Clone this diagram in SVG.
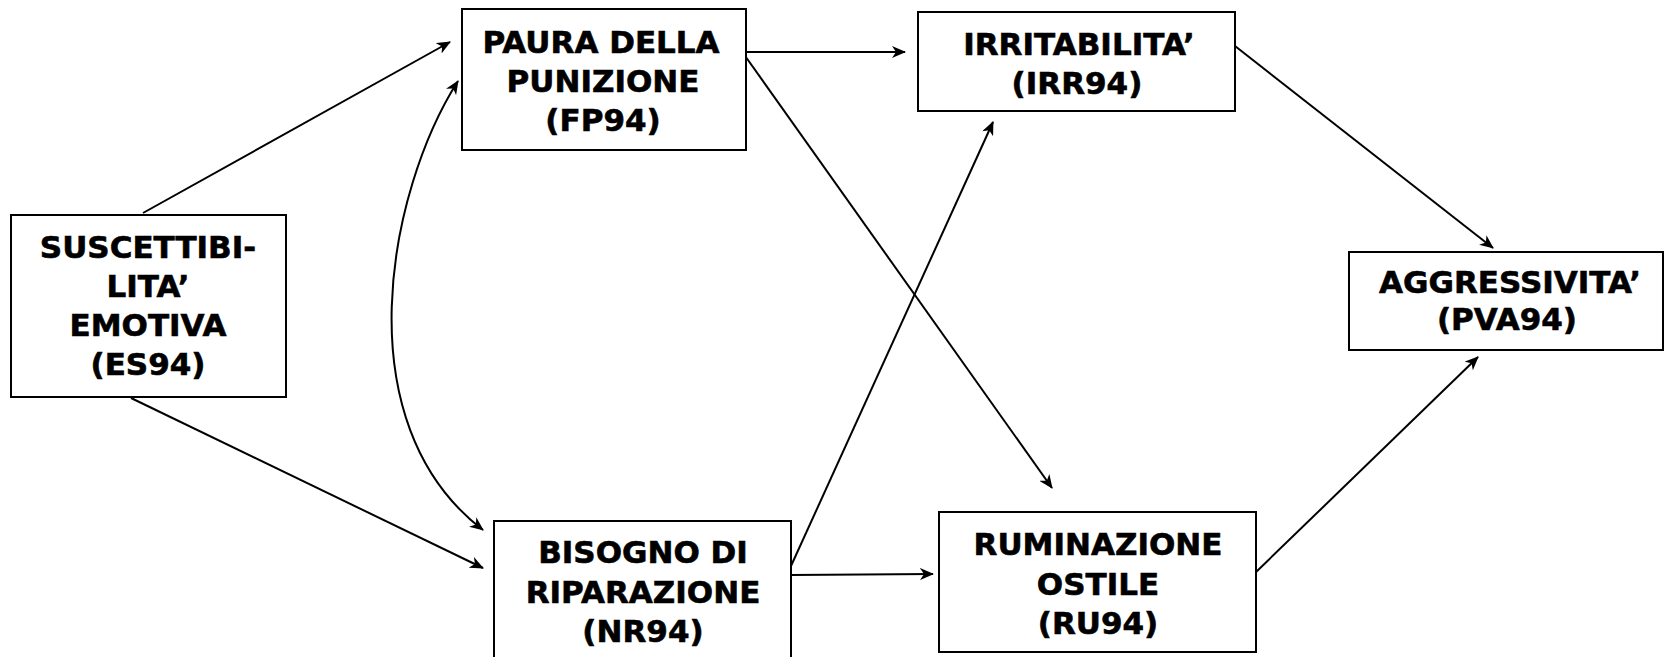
<svg xmlns="http://www.w3.org/2000/svg" width="1664" height="657" viewBox="0 0 1664 657">
<style>
.box{fill:#fff;stroke:#000;stroke-width:2}
.t{font-family:"DejaVu Sans","Liberation Sans",sans-serif;font-weight:bold;font-size:31px;text-anchor:middle;fill:#000;stroke:#000;stroke-width:0.6}
.c{fill:none;stroke:#000;stroke-width:2}
</style>
<defs>
<marker id="ah" viewBox="0 0 14 12" refX="13" refY="6" markerWidth="14" markerHeight="12" markerUnits="userSpaceOnUse" orient="auto-start-reverse">
<path d="M0,0 L14,6 L0,12 L4,6 z" fill="#000"/>
</marker>
</defs>
<rect width="1664" height="657" fill="#fff"/>
<g id="connectors">
<line class="c" x1="143" y1="213" x2="450" y2="42" marker-end="url(#ah)"/>
<line class="c" x1="131" y1="398" x2="483" y2="568" marker-end="url(#ah)"/>
<path class="c" d="M458,81 C388,191 343,423 483,530" marker-start="url(#ah)" marker-end="url(#ah)"/>
<line class="c" x1="745" y1="52" x2="905" y2="52" marker-end="url(#ah)"/>
<line class="c" x1="743" y1="53" x2="1052" y2="488" marker-end="url(#ah)"/>
<line class="c" x1="791" y1="566" x2="993" y2="122" marker-end="url(#ah)"/>
<line class="c" x1="791" y1="575" x2="933" y2="574" marker-end="url(#ah)"/>
<line class="c" x1="1235" y1="46" x2="1493" y2="248" marker-end="url(#ah)"/>
<line class="c" x1="1255" y1="573" x2="1478" y2="357" marker-end="url(#ah)"/>
</g>
<g id="ES94">
<rect class="box" x="11" y="215" width="275" height="182"/>
<text class="t" x="148" y="258">SUSCETTIBI-</text>
<text class="t" x="148" y="297">LITA’</text>
<text class="t" x="148" y="336">EMOTIVA</text>
<text class="t" x="148" y="375">(ES94)</text>
</g>
<g id="FP94">
<rect class="box" x="462" y="9" width="284" height="141"/>
<text class="t" x="601" y="53">PAURA DELLA</text>
<text class="t" x="603" y="92">PUNIZIONE</text>
<text class="t" x="603" y="131">(FP94)</text>
</g>
<g id="IRR94">
<rect class="box" x="918" y="12" width="317" height="99"/>
<text class="t" x="1079" y="55">IRRITABILITA’</text>
<text class="t" x="1077" y="94">(IRR94)</text>
</g>
<g id="PVA94">
<rect class="box" x="1349" y="252" width="314" height="98"/>
<text class="t" x="1510" y="293">AGGRESSIVITA’</text>
<text class="t" x="1507" y="330">(PVA94)</text>
</g>
<g id="NR94">
<rect class="box" x="494" y="521" width="297" height="150"/>
<text class="t" x="643" y="563">BISOGNO DI</text>
<text class="t" x="643" y="603">RIPARAZIONE</text>
<text class="t" x="643" y="642">(NR94)</text>
</g>
<g id="RU94">
<rect class="box" x="939" y="512" width="317" height="140"/>
<text class="t" x="1098" y="555">RUMINAZIONE</text>
<text class="t" x="1098" y="595">OSTILE</text>
<text class="t" x="1098" y="634">(RU94)</text>
</g>
</svg>
